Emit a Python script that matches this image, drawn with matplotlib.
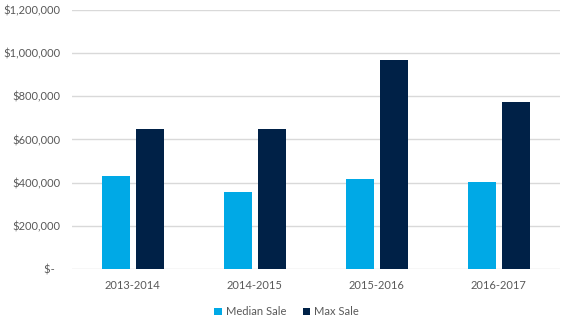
import numpy as np
import matplotlib.pyplot as plt
from matplotlib.ticker import FuncFormatter

# sale prices by fiscal year
years = ['2013-2014', '2014-2015', '2015-2016', '2016-2017']
median_sale = [430000, 356000, 417000, 401000]
max_sale = [648000, 650000, 967000, 773000]

plt.rcParams['font.family'] = ['Lato', 'DejaVu Sans']

fig = plt.figure(figsize=(5.7, 3.29), dpi=100)
ax = fig.add_axes([0.126, 0.182, 0.856, 0.788])

x = np.arange(len(years))
w = 0.23
ax.bar(x - 0.137, median_sale, w, color='#00a9e6', label='Median Sale', zorder=3)
ax.bar(x + 0.142, max_sale, w, color='#002147', label='Max Sale', zorder=3)

ax.set_xlim(-0.5, 3.5)
ax.set_ylim(0, 1200000)
ax.set_yticks(np.arange(0, 1200001, 200000))
ax.yaxis.set_major_formatter(FuncFormatter(lambda v, p: '$-  ' if v == 0 else f'${v:,.0f}'))
ax.grid(axis='y', color='#d9d9d9', linewidth=1, zorder=0)
for s in ax.spines.values():
    s.set_visible(False)
ax.tick_params(length=0, labelsize=8, colors='#595959')
ax.tick_params(axis='y', pad=8)
ax.tick_params(axis='x', pad=8)
ax.set_xticks(x)
ax.set_xticklabels(years)

ax.legend(loc='upper center', bbox_to_anchor=(0.44, -0.105), ncol=2, frameon=False,
          fontsize=8, handlelength=0.7, handleheight=0.7, handletextpad=0.3,
          columnspacing=1.5, labelcolor='#595959')

fig.savefig('out.png', dpi=100)
